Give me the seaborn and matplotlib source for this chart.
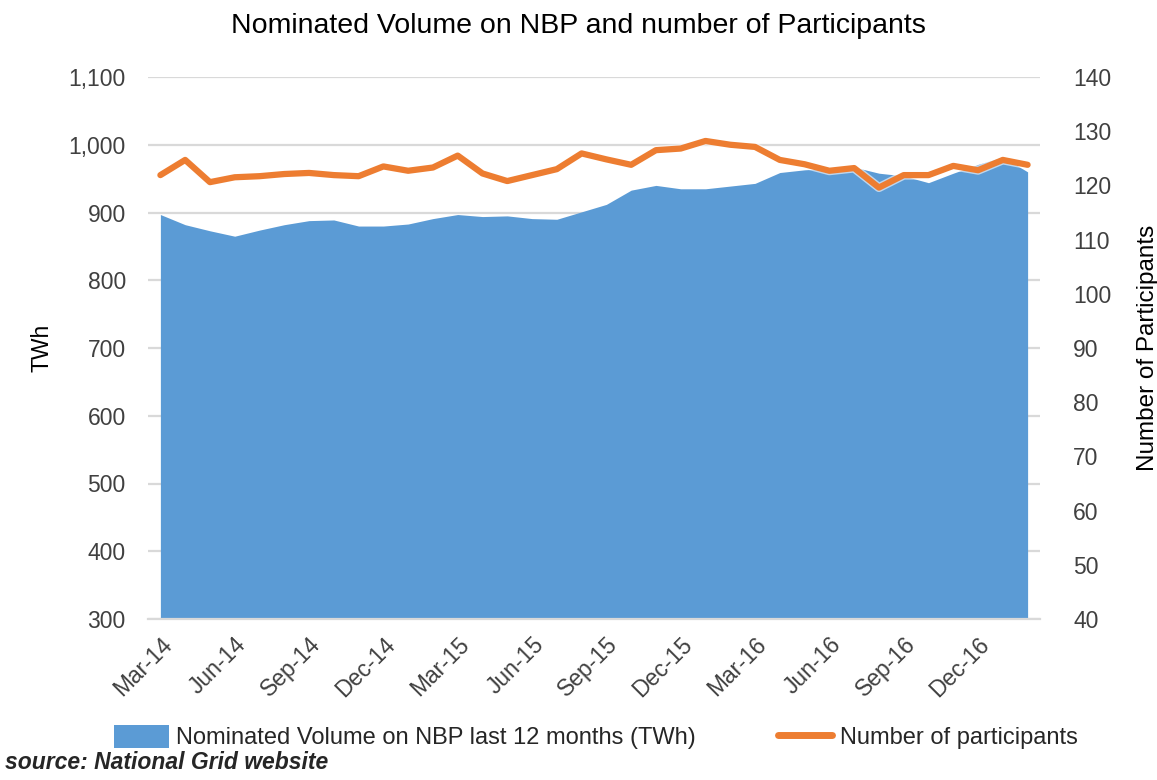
import matplotlib
matplotlib.use("Agg")
import matplotlib.pyplot as plt
import matplotlib.patheffects as pe
from matplotlib.patches import Patch
from matplotlib.lines import Line2D
import pandas as pd
import seaborn as sns

# Dati (mensili, Mar-14 .. Feb-17)
months = ['Mar-14', 'Apr-14', 'May-14', 'Jun-14', 'Jul-14', 'Aug-14', 'Sep-14', 'Oct-14', 'Nov-14',
          'Dec-14', 'Jan-15', 'Feb-15', 'Mar-15', 'Apr-15', 'May-15', 'Jun-15', 'Jul-15', 'Aug-15',
          'Sep-15', 'Oct-15', 'Nov-15', 'Dec-15', 'Jan-16', 'Feb-16', 'Mar-16', 'Apr-16', 'May-16',
          'Jun-16', 'Jul-16', 'Aug-16', 'Sep-16', 'Oct-16', 'Nov-16', 'Dec-16', 'Jan-17', 'Feb-17']
volume_twh = [897, 882, 873, 865, 874, 882, 888, 889, 880, 880, 883, 891, 897, 894, 895, 891, 890, 901,
              912, 933, 940, 935, 935, 939, 943, 959, 963, 965, 967, 958, 954, 944, 958, 971, 982, 960]
participants = [121.9, 124.7, 120.6, 121.5, 121.7, 122.1, 122.3, 121.9, 121.7, 123.5, 122.7, 123.3,
                125.5, 122.2, 120.8, 121.9, 123.0, 125.9, 124.8, 123.8, 126.5, 126.8, 128.2, 127.5,
                127.1, 124.7, 123.9, 122.7, 123.2, 119.6, 121.9, 121.9, 123.6, 122.8, 124.7, 123.8]
left_ticks = [300, 400, 500, 600, 700, 800, 900, 1000, 1100]
right_ticks = [40, 50, 60, 70, 80, 90, 100, 110, 120, 130, 140]

df = pd.DataFrame({'month': months, 'volume': volume_twh, 'participants': participants})
df['x'] = range(len(df))

blue = '#5B9BD5'
orange = '#ED7D31'
grid_col = '#D9D9D9'
text_col = '#404040'
fs = 16.5

sns.set_style('white')
plt.rcParams['font.family'] = ['Liberation Sans', 'DejaVu Sans']

fig = plt.figure(figsize=(11.57, 7.8), dpi=100)
ax = fig.add_axes([148 / 1157, 1 - 619 / 780, 892 / 1157, 542 / 780])

# Area del volume nominato
ax.fill_between(df['x'], left_ticks[0], df['volume'], color=blue, linewidth=0, zorder=2)
ax.set_ylim(300, 1100)
ax.set_xlim(-0.5, len(df) - 0.5)
ax.set_yticks(left_ticks)
ax.set_yticklabels([f'{v:,}' for v in left_ticks])
ax.yaxis.grid(True, color=grid_col, linewidth=1.6, zorder=0)
ax.set_axisbelow(True)
for s in ['left', 'right', 'top']:
    ax.spines[s].set_visible(False)
ax.spines['bottom'].set_color(grid_col)
ax.spines['bottom'].set_linewidth(1.6)
ax.spines['bottom'].set_zorder(3)
ax.tick_params(axis='y', length=0, pad=16, labelsize=fs, labelcolor=text_col)
ax.set_ylabel('TWh', fontsize=fs, color='black', labelpad=11)

# Etichette ogni 3 mesi, tacche ai bordi delle categorie
ax.set_xticks(df['x'][::3])
ax.set_xticklabels(df['month'][::3], rotation=45, ha='right', va='top', rotation_mode='anchor')
ax.set_xticks([i - 0.5 for i in range(0, len(df) + 1, 3)], minor=True)
ax.tick_params(axis='x', which='major', length=0, pad=10, labelsize=fs, labelcolor=text_col)
ax.tick_params(axis='x', which='minor', length=7, width=1.6, color=grid_col, direction='out')

# Numero di partecipanti sull'asse destro
ax2 = ax.twinx()
sns.lineplot(x='x', y='participants', data=df, ax=ax2, color=orange, linewidth=4.5,
             solid_capstyle='round', solid_joinstyle='round', zorder=4,
             path_effects=[pe.Stroke(linewidth=6.5, foreground='white', alpha=0.6), pe.Normal()])
ax2.set_ylim(40, 140)
ax2.set_yticks(right_ticks)
for s in ['left', 'right', 'top', 'bottom']:
    ax2.spines[s].set_visible(False)
ax2.tick_params(axis='y', length=0, pad=24, labelsize=fs, labelcolor=text_col)
ax2.set_ylabel('Number of Participants', fontsize=17.5, color='black', labelpad=18)
ax2.set_xlabel('')
ax2.grid(False)

fig.suptitle('Nominated Volume on NBP and number of Participants', fontsize=20.5, y=0.983, color='black')

handles = [Patch(facecolor=blue, edgecolor='none'),
           Line2D([0], [0], color=orange, linewidth=5, solid_capstyle='round')]
labels = ['Nominated Volume on NBP last 12 months (TWh)', 'Number of participants']
fig.legend(handles, labels, loc='center', bbox_to_anchor=(0.515, 0.055), ncol=2, frameon=False,
           fontsize=17, handlelength=2.3, handleheight=1.1, handletextpad=0.3, columnspacing=3.5)

fig.text(0.004, 0.008, 'source: National Grid website', fontsize=16.5, fontweight='bold',
         fontstyle='italic', ha='left', va='bottom')

fig.savefig('out.png', dpi=100)
